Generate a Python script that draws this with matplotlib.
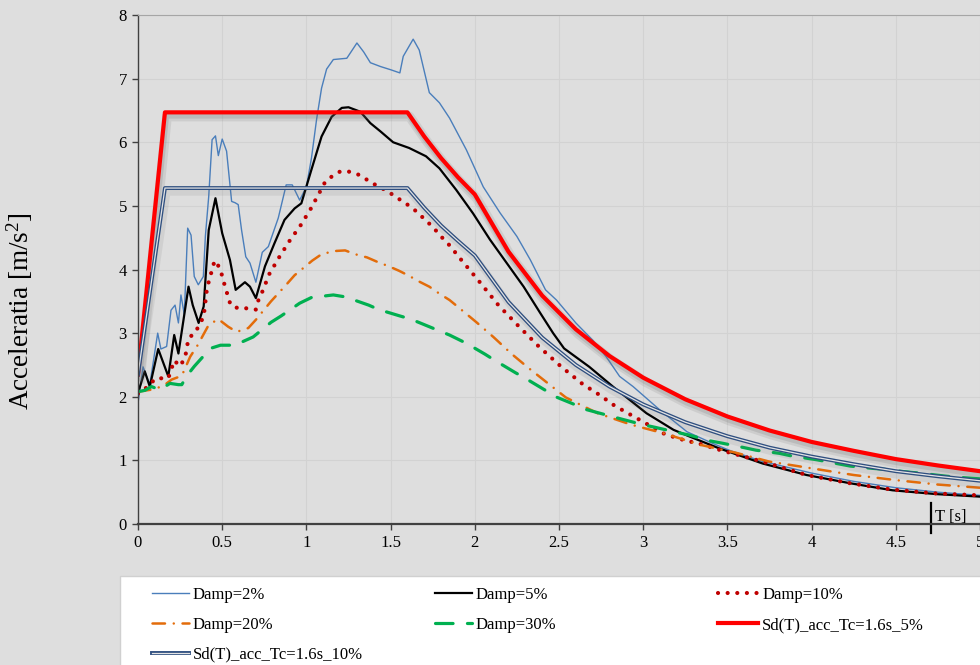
import matplotlib
matplotlib.use('Agg')
import matplotlib.pyplot as plt
import matplotlib.patheffects as pe
from matplotlib.patches import Rectangle
from matplotlib.lines import Line2D

plt.rcParams['font.family'] = ['Liberation Serif', 'DejaVu Serif']
plt.rcParams['mathtext.fontset'] = 'custom'
plt.rcParams['mathtext.rm'] = 'Liberation Serif'
plt.rcParams['mathtext.it'] = 'Liberation Serif:italic'

# --- data (T [s], acceleration [m/s2]) ---
t_d2 = [0.0, 0.03, 0.07, 0.117, 0.136, 0.17, 0.196, 0.22, 0.24, 0.255, 0.275, 0.295, 0.315,
        0.334, 0.358, 0.388, 0.40, 0.42, 0.44, 0.46, 0.477, 0.50, 0.526, 0.556, 0.576, 0.595,
        0.615, 0.64, 0.665, 0.70, 0.738, 0.774, 0.833, 0.88, 0.916, 0.96, 1.0, 1.03, 1.06,
        1.09, 1.12, 1.16, 1.24, 1.30, 1.34, 1.38, 1.44, 1.50, 1.555, 1.575, 1.634, 1.67, 1.73,
        1.79, 1.85, 1.95, 2.05, 2.15, 2.25, 2.33, 2.42, 2.485, 2.60, 2.70, 2.78, 2.86, 2.94,
        3.10, 3.26, 3.41, 3.51, 3.7, 4.0, 4.25, 4.5, 4.75, 5.0]
a_d2 = [1.90, 2.47, 2.19, 3.00, 2.75, 2.79, 3.36, 3.44, 3.16, 3.60, 3.29, 4.65, 4.54,
        3.89, 3.76, 3.89, 4.52, 5.15, 6.04, 6.10, 5.79, 6.05, 5.86, 5.07, 5.05, 5.02,
        4.62, 4.20, 4.10, 3.80, 4.27, 4.36, 4.81, 5.33, 5.33, 5.09, 5.30, 5.75, 6.35,
        6.85, 7.15, 7.30, 7.32, 7.56, 7.42, 7.25, 7.19, 7.14, 7.09, 7.35, 7.62, 7.45, 6.78,
        6.62, 6.38, 5.88, 5.30, 4.89, 4.52, 4.15, 3.68, 3.52, 3.16, 2.89, 2.63, 2.32, 2.16,
        1.79, 1.45, 1.27, 1.16, 0.99, 0.80, 0.67, 0.57, 0.50, 0.45]

t_d5 = [0.0, 0.04, 0.07, 0.12, 0.18, 0.215, 0.24, 0.30, 0.325, 0.36, 0.39, 0.42, 0.46, 0.50,
        0.546, 0.58, 0.635, 0.665, 0.70, 0.754, 0.81, 0.87, 0.93, 0.97, 1.03, 1.09, 1.15,
        1.21, 1.25, 1.32, 1.38, 1.44, 1.515, 1.61, 1.71, 1.79, 1.89, 1.99, 2.09, 2.19, 2.29,
        2.39, 2.465, 2.53, 2.68, 2.82, 3.02, 3.18, 3.28, 3.45, 3.71, 3.97, 4.23, 4.48, 4.74, 5.0]
a_d5 = [2.06, 2.40, 2.16, 2.75, 2.32, 2.97, 2.68, 3.73, 3.44, 3.16, 3.42, 4.62, 5.12, 4.57,
        4.15, 3.68, 3.80, 3.73, 3.55, 4.05, 4.41, 4.78, 4.96, 5.04, 5.57, 6.09, 6.40,
        6.54, 6.55, 6.48, 6.30, 6.17, 6.00, 5.91, 5.78, 5.59, 5.25, 4.88, 4.47, 4.10, 3.73,
        3.31, 3.00, 2.76, 2.47, 2.16, 1.74, 1.48, 1.37, 1.19, 0.95, 0.77, 0.64, 0.53, 0.47, 0.43]

t_d10 = [0.0, 0.04, 0.107, 0.18, 0.215, 0.25, 0.28, 0.30, 0.34, 0.39, 0.41, 0.455, 0.487,
         0.516, 0.55, 0.595, 0.65, 0.70, 0.714, 0.738, 0.78, 0.84, 0.90, 0.967, 1.027, 1.08,
         1.11, 1.15, 1.20, 1.25, 1.31, 1.36, 1.41, 1.46, 1.51, 1.56, 1.60, 1.65, 1.69, 1.73,
         1.77, 1.81, 1.85, 1.92, 2.03, 2.14, 2.26, 2.38, 2.51, 2.64, 2.74, 2.83, 2.93, 3.03,
         3.13, 3.24, 3.35, 3.46, 3.71, 3.97, 4.23, 4.48, 4.74, 5.0]
a_d10 = [2.05, 2.12, 2.29, 2.29, 2.57, 2.48, 2.62, 2.92, 3.01, 3.26, 3.71, 4.14, 4.02,
         3.74, 3.44, 3.39, 3.39, 3.37, 3.51, 3.65, 3.93, 4.20, 4.45, 4.70, 4.96, 5.22,
         5.37, 5.46, 5.54, 5.54, 5.49, 5.41, 5.33, 5.26, 5.18, 5.09, 5.02, 4.92, 4.82, 4.72,
         4.61, 4.49, 4.38, 4.15, 3.80, 3.44, 3.11, 2.79, 2.48, 2.20, 2.03, 1.86, 1.71, 1.56,
         1.41, 1.32, 1.25, 1.16, 0.98, 0.77, 0.64, 0.54, 0.48, 0.45]

t_d20 = [0.0, 0.1, 0.16, 0.2, 0.26, 0.31, 0.354, 0.42, 0.477, 0.536, 0.586, 0.655, 0.70, 0.79,
         0.88, 0.93, 1.035, 1.09, 1.165, 1.23, 1.29, 1.36, 1.43, 1.49, 1.55, 1.61, 1.67, 1.73,
         1.79, 1.85, 1.91, 2.01, 2.11, 2.22, 2.32, 2.43, 2.54, 2.60, 2.73, 2.93, 3.13, 3.33,
         3.55, 3.75, 4.0, 4.25, 4.5, 4.75, 5.0]
a_d20 = [2.08, 2.12, 2.19, 2.27, 2.33, 2.63, 2.81, 3.13, 3.22, 3.10, 3.02, 3.08, 3.21, 3.50,
         3.76, 3.91, 4.14, 4.24, 4.29, 4.30, 4.24, 4.19, 4.11, 4.05, 3.98, 3.90, 3.81, 3.73,
         3.62, 3.52, 3.39, 3.17, 2.94, 2.67, 2.45, 2.22, 1.99, 1.91, 1.74, 1.56, 1.42, 1.25,
         1.12, 0.98, 0.875, 0.77, 0.69, 0.62, 0.57]

t_d30 = [0.0, 0.04, 0.08, 0.13, 0.19, 0.24, 0.26, 0.29, 0.335, 0.43, 0.49, 0.576, 0.625, 0.684,
         0.79, 0.85, 0.96, 1.03, 1.16, 1.23, 1.37, 1.43, 1.555, 1.62, 1.85, 1.95, 2.06, 2.12,
         2.24, 2.30, 2.42, 2.48, 2.60, 2.66, 2.80, 2.87, 3.0, 3.07, 3.20, 3.27, 3.39, 3.47,
         3.60, 3.67, 3.81, 3.88, 4.03, 4.23, 4.36, 4.43, 4.56, 4.64, 4.77, 4.84, 5.0]
a_d30 = [2.08, 2.10, 2.16, 2.11, 2.21, 2.19, 2.19, 2.33, 2.48, 2.76, 2.81, 2.81, 2.87, 2.94,
         3.17, 3.27, 3.47, 3.56, 3.60, 3.57, 3.44, 3.37, 3.27, 3.22, 2.97, 2.84, 2.67, 2.57,
         2.38, 2.29, 2.10, 2.00, 1.87, 1.80, 1.70, 1.65, 1.56, 1.52, 1.44, 1.40, 1.31, 1.27,
         1.20, 1.16, 1.11, 1.07, 1.01, 0.91, 0.875, 0.86, 0.82, 0.80, 0.76, 0.74, 0.71]

t_sd = [0.0, 0.16, 1.6, 1.7, 1.8, 1.9, 2.0, 2.2, 2.4, 2.6, 2.8, 3.0, 3.25, 3.5, 3.75,
        4.0, 4.25, 4.5, 4.75, 5.0]
a_sd5 = [2.35, 6.47, 6.47, 6.09, 5.75, 5.45, 5.18, 4.28, 3.59, 3.06, 2.64, 2.30, 1.96, 1.69,
         1.47, 1.29, 1.15, 1.02, 0.92, 0.83]
a_sd10 = [2.35, 5.28, 5.28, 4.97, 4.69, 4.45, 4.22, 3.49, 2.93, 2.50, 2.16, 1.88, 1.60, 1.38,
          1.20, 1.06, 0.94, 0.83, 0.75, 0.68]

x_ticks = [0, 0.5, 1, 1.5, 2, 2.5, 3, 3.5, 4, 4.5, 5]
x_labels = ['0', '0.5', '1', '1.5', '2', '2.5', '3', '3.5', '4', '4.5', '5']
y_ticks = [0, 1, 2, 3, 4, 5, 6, 7, 8]

BG = '#dedede'
fig = plt.figure(figsize=(9.8, 6.65), dpi=100, facecolor=BG)
ax = fig.add_axes([138/980, 141/665, 842/980, 509/665])
ax.set_facecolor(BG)

shadow_red = [pe.SimpleLineShadow(offset=(1.5, -3), shadow_color='#707070', alpha=0.15, linewidth=7),
              pe.SimpleLineShadow(offset=(1, -2.5), shadow_color='#707070', alpha=0.2, linewidth=4),
              pe.Normal()]
shadow_blue = [pe.SimpleLineShadow(offset=(1.5, -3), shadow_color='#707070', alpha=0.12, linewidth=5),
               pe.Normal()]

# styles (used for plot lines and legend proxies)
st_d2 = dict(color='#4a7ebb', lw=1.0)
st_d5 = dict(color='black', lw=1.6)
st_d10 = dict(color='#c00000', lw=3, linestyle=(0, (0.01, 2.3)), dash_capstyle='round')
st_d20 = dict(color='#e36c0a', lw=1.8, linestyle=(0, (5, 3.5, 0.01, 3.5)), dash_capstyle='round')
st_d30 = dict(color='#00b050', lw=2.3, linestyle=(0, (5.5, 4.5)), dash_capstyle='round')
st_sd5 = dict(color='#ff0000', lw=3)
st_sd10a = dict(color='#2f4f80', lw=2.8)
st_sd10b = dict(color='#e4e4e4', lw=0.9)

ax.plot(t_d2, a_d2, **st_d2)
ax.plot(t_d5, a_d5, **st_d5)
ax.plot(t_d10, a_d10, **st_d10)
ax.plot(t_d20, a_d20, **st_d20)
ax.plot(t_d30, a_d30, **st_d30)
ax.plot(t_sd, a_sd5, path_effects=shadow_red, **st_sd5)
ax.plot(t_sd, a_sd10, path_effects=shadow_blue, **st_sd10a)
ax.plot(t_sd, a_sd10, **st_sd10b)

ax.set_xlim(0, 5)
ax.set_ylim(0, 8)
ax.set_xticks(x_ticks)
ax.set_xticklabels(x_labels)
ax.set_yticks(y_ticks)
ax.tick_params(axis='both', labelsize=12, direction='out', length=4, width=1, color='#404040', pad=4)
ax.grid(True, color='#d2d2d2', lw=0.8)
ax.set_axisbelow(True)
for s in ['left', 'bottom']:
    ax.spines[s].set_color('#404040')
ax.spines['bottom'].set_linewidth(1.6)
ax.spines['left'].set_linewidth(1.0)
ax.spines['top'].set_color('#a6a6a6')
ax.spines['right'].set_visible(False)

ax.set_ylabel('Acceleratia [m/s$^{2}$]', fontsize=19.5)
ax.yaxis.set_label_coords(-0.122, 0.418)

# T [s] marker on the axis
ax.plot([4.71, 4.71], [0.33, -0.14], color='black', lw=1.6, clip_on=False)
ax.text(4.735, 0.115, 'T [s]', fontsize=12, ha='left', va='center')

# legend panel
fig.patches.append(Rectangle((120/980, -0.01), 1.0, 89/665 + 0.01, transform=fig.transFigure,
                             fc='white', ec='#d0d0d0', lw=1, zorder=0))
h = lambda st: Line2D([], [], **st)
kw = dict(loc='upper left', frameon=False, fontsize=12, borderpad=0, borderaxespad=0,
          handletextpad=0.25, labelspacing=0.83)
top = 0.117
fig.legend([h(st_d2), h(st_d20), (h(st_sd10a), h(st_sd10b))],
           ['Damp=2%', 'Damp=20%', 'Sd(T)_acc_Tc=1.6s_10%'],
           bbox_to_anchor=(152/980, top), handlelength=2.2, **kw)
fig.legend([h(st_d5), h(st_d30)], ['Damp=5%', 'Damp=30%'],
           bbox_to_anchor=(435/980, top), handlelength=2.2, **kw)
fig.legend([h(st_d10), h(st_sd5)], ['Damp=10%', 'Sd(T)_acc_Tc=1.6s_5%'],
           bbox_to_anchor=(718/980, top), handlelength=2.4, **kw)

fig.savefig('out.png', dpi=100, facecolor=BG)
